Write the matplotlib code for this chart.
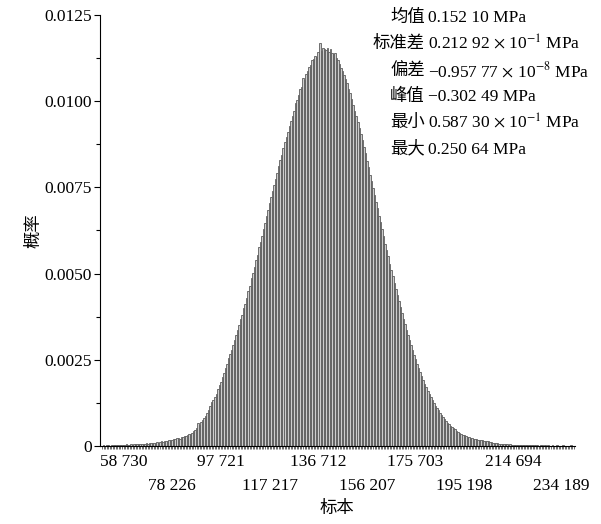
import matplotlib
matplotlib.use("Agg")
import matplotlib.pyplot as plt
from matplotlib.ticker import FixedLocator, MultipleLocator
from matplotlib.transforms import offset_copy
import numpy as np

# ---- data (bar heights in units of 1e-4) ----
HEIGHTS_E4 = [
    # left tail
    0.1, 0.2, 0.1, 0.2, 0.2, 0.1, 0.3, 0.2, 0.2, 0.3,
    0.2, 0.3, 0.4, 0.3, 0.3, 0.4, 0.5, 0.3, 0.4, 0.5,
    0.4, 0.5, 0.6, 0.5, 0.6,
    0.5, 0.7, 0.6, 0.7, 0.8, 0.7, 0.9, 0.8, 1.0, 0.9,
    0.9, 1.1, 1.0, 1.2, 1.3, 1.2, 1.4, 1.5, 1.4, 1.6,
    1.7, 1.8, 2.0, 1.9, 2.2, 2.3, 2.1, 2.5, 2.6, 2.8,
    3.0, 3.2, 3.5, 3.4, 3.9, 4.2, 4.6, 5.2, 6.8, 6.2,
    6.9, 7.5, 8.2, 8.8, 9.6, 10.4, 11.5, 12.8, 13.4, 14.3,
    15.2, 16.4, 17.8, 18.6, 19.9, 21.3, 22.5, 23.8, 25.4, 26.6,
    27.9, 29.4, 30.6, 32.3, 33.5, 35.2, 36.8, 38.1, 39.9, 41.2,
    42.8, 44.9, 46.3, 48.6, 50.1, 51.8, 53.9, 55.4, 57.6, 59.1,
    60.9, 63.0, 64.6, 66.8, 68.3, 70.4, 72.1, 74.0, 75.6, 77.5,
    79.2, 81.3, 83.0, 84.4, 86.5, 88.1, 89.6, 91.0, 92.7, 94.2,
    95.6, 97.1, 99.4, 100.2, 101.8, 103.5, 104.1, 106.7, 106.0, 107.9,
    108.8, 109.9, 110.6, 111.8, 112.3, 113.1, 112.7, 114.2, 116.9, 114.6,
    115.3,
    # right half
    115.0, 114.8, 115.5, 114.4, 115.2, 114.1, 113.6, 113.9, 112.4, 111.8,
    110.9, 109.6, 108.8, 107.5, 106.4, 105.2, 103.6, 102.3, 100.5, 98.9,
    97.2, 95.6, 93.9, 92.1, 90.4, 88.6, 86.7, 84.9, 82.6, 80.8,
    78.7, 76.9, 74.8, 72.9, 70.9, 69.1, 66.8, 64.9, 62.8, 60.9,
    58.7, 56.9, 55.0, 52.8, 51.1, 49.2, 47.4, 45.6, 43.7, 42.0,
    40.3, 38.6, 36.9, 35.4, 33.7, 32.2, 30.8, 29.3, 27.9, 26.5,
    25.2, 23.9, 22.6, 21.4, 20.2, 19.1, 18.0, 17.0, 16.0, 15.1,
    14.2, 13.3, 12.5, 11.7, 11.0, 10.3, 9.6, 9.0, 8.4, 7.8,
    7.3, 6.8, 6.3, 5.9, 5.5, 5.1, 4.8, 4.4, 4.1, 3.8,
    3.6, 3.3, 3.1, 2.9, 2.7, 2.5, 2.4, 2.2, 2.1, 2.0,
    1.9, 1.8, 1.7, 1.6, 1.6, 1.5, 1.4, 1.4, 1.3, 1.2,
    1.1, 1.0, 0.9, 0.9, 0.8, 0.7, 0.7, 0.6, 0.6, 0.5,
    0.5, 0.4, 0.5, 0.4, 0.3, 0.4, 0.3, 0.3, 0.4, 0.3,
    0.3, 0.2, 0.3, 0.2, 0.3, 0.2, 0.2, 0.3, 0.2, 0.2,
    0.2, 0.1, 0.2, 0.2, 0.1, 0.2, 0.1, 0.2, 0.1, 0.1,
    0.2, 0.1, 0.1, 0.2, 0.1, 0.1, 0.1, 0.2, 0.1, 0.1,
    0.1, 0.1, 0.2, 0.1, 0.1,
]
X_TICKS = [58730, 78226, 97721, 117217, 136712, 156207, 175703, 195198, 214694, 234189]
X_START = 49900            # left edge of first bin (sample units)
BIN_W = 19495.44 / 32      # one label step covers 32 bins
Y_TICKS = [0, 0.0025, 0.0050, 0.0075, 0.0100, 0.0125]
Y_LABELS = ["0", "0.0025", "0.0050", "0.0075", "0.0100", "0.0125"]

STATS = [
    ("均值", "0.152 10 MPa"),
    ("标准差", r"0.212 92 $\times$ 10$^{-1}$ MPa"),
    ("偏差", r"−0.957 77 $\times$ 10$^{-8}$ MPa"),
    ("峰值", "−0.302 49 MPa"),
    ("最小", r"0.587 30 $\times$ 10$^{-1}$ MPa"),
    ("最大", "0.250 64 MPa"),
]

FS = 12.5
plt.rcParams["font.family"] = ["Liberation Serif", "Noto Sans CJK SC", "DejaVu Serif"]
plt.rcParams["mathtext.fontset"] = "stix"
plt.rcParams["font.size"] = FS

heights = np.array(HEIGHTS_E4) * 1e-4
n = len(heights)
centers = X_START + (np.arange(n) + 0.5) * BIN_W

fig = plt.figure(figsize=(6.01, 5.24), dpi=100)
ax = fig.add_axes([0.1664, 0.1489, 0.790, 0.8225])

ax.bar(centers, heights, width=BIN_W, color="#cdcdcd", edgecolor="#5c5c5c", linewidth=0.6)

ax.set_xlim(49323, 239465)
ax.set_ylim(0, 0.0125)
for s in ("top", "right"):
    ax.spines[s].set_visible(False)
ax.spines["left"].set_linewidth(0.8)
ax.spines["bottom"].set_linewidth(0.8)

ax.set_yticks(Y_TICKS)
ax.set_yticklabels(Y_LABELS)
ax.yaxis.set_minor_locator(MultipleLocator(0.00125))
ax.tick_params(axis="y", which="major", direction="out", length=4, width=0.8, pad=2)
ax.tick_params(axis="y", which="minor", direction="out", length=3, width=0.8)

fmt = lambda v: f"{v:,}".replace(",", " ")
# first row as tick labels, second row as separate texts
ax.set_xticks(X_TICKS[::2])
ax.set_xticklabels([fmt(v) for v in X_TICKS[::2]])
ax.xaxis.set_minor_locator(FixedLocator(centers))
ax.tick_params(axis="x", which="major", length=0, pad=6)
ax.tick_params(axis="x", which="minor", direction="out", length=2.5, width=0.5, color="#333333")
row2 = offset_copy(ax.get_xaxis_transform(), fig=fig, y=-32, units="dots")
for v in X_TICKS[1::2]:
    ax.text(v, 0, fmt(v), transform=row2, ha="center", va="top", fontsize=FS)

ax.set_ylabel("概率", fontsize=FS, labelpad=1)
ax.set_xlabel("标本", fontsize=FS, labelpad=22)

# statistics block
y0, dy = 18, 26.3
for k, (name, val) in enumerate(STATS):
    ypx = 524 - (y0 + k * dy)
    fig.text(425 / 601, ypx / 524, name, ha="right", va="center", fontsize=FS)
    fig.text(428 / 601, ypx / 524, val, ha="left", va="center", fontsize=FS)

fig.savefig("out.png", dpi=100)
